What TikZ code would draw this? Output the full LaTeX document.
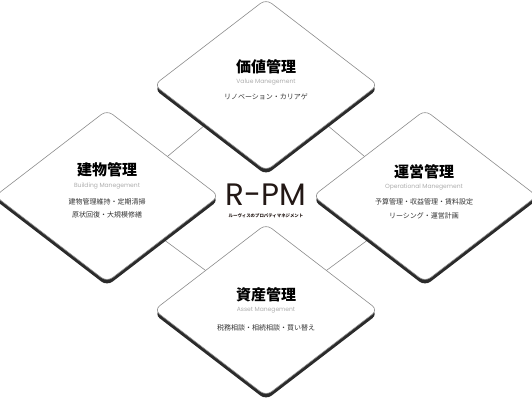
\documentclass[tikz,border=0pt]{standalone}
\usepackage{fontspec}
\setsansfont{Poppins}
\newfontfamily\jpfont{Noto Sans CJK JP}
\usetikzlibrary{shapes.geometric,shadows,calc,backgrounds}
\definecolor{rimgray}{HTML}{8C8C8C}
\definecolor{shadowdark}{HTML}{2B2B2B}
\definecolor{subgray}{HTML}{ADADAD}
\definecolor{bodygray}{HTML}{333333}
\definecolor{logobrown}{HTML}{231815}
\tikzset{
  pmbox/.style={diamond,draw=rimgray,line width=0.6pt,fill=white,rounded corners=7pt,
    minimum width=224pt,minimum height=172pt,inner sep=0pt,
    drop shadow={shadow xshift=0pt,shadow yshift=-4pt,opacity=1,fill=shadowdark}},
  pmtitle/.style={font=\jpfont\bfseries\fontsize{15}{18}\selectfont,text=black},
  pmsub/.style={font=\sffamily\fontsize{6}{7}\selectfont,text=subgray},
  pmbody/.style={font=\jpfont\fontsize{7}{13.5}\selectfont,text=bodygray,align=center},
  link/.style={draw=rimgray,line width=0.6pt}
}
\begin{document}
\begin{tikzpicture}[x=1pt,y=-1pt]
\useasboundingbox (0,0) rectangle (532,400);
%
\node[pmbox] (value) at (266,85) {};
\node[pmbox] (building) at (107,196) {};
\node[pmbox] (operation) at (425,196) {};
\node[pmbox] (asset) at (266,310) {};
%
\begin{scope}[on background layer]
\draw[link] ($(value.west)!0.46!(value.south)$) -- ($(building.north)!0.54!(building.east)$);
\draw[link] ($(value.east)!0.46!(value.south)$) -- ($(operation.north)!0.54!(operation.west)$);
\draw[link] ($(building.east)!0.5!(building.south)$) -- ($(asset.west)!0.46!(asset.north)$);
\draw[link] ($(operation.west)!0.5!(operation.south)$) -- ($(asset.east)!0.46!(asset.north)$);
\end{scope}
%
\node[font=\sffamily\fontsize{31}{34}\selectfont,text=logobrown,inner sep=0pt,anchor=base] (logo) at (266,205) {R-PM};
\node[font=\jpfont\bfseries\fontsize{4.4}{5}\selectfont,text=logobrown,inner sep=0pt,anchor=base] (logosub) at (266,217) {ルーヴィスのプロパティマネジメント};
%
\node[pmtitle] (valuetitle) at (266,67) {価値管理};
\node[pmsub] (valuesub) at (266,82) {Value Manegement};
\node[pmbody] (valuebody) at (266,97) {リノベーション・カリアゲ};
%
\node[pmtitle] (buildingtitle) at (107,170) {建物管理};
\node[pmsub] (buildingsub) at (107,186) {Building Manegement};
\node[pmbody] (buildingbody) at (107,208.5) {建物管理維持・定期清掃\\原状回復・大規模修繕};
%
\node[pmtitle] (operationtitle) at (424,172) {運営管理};
\node[pmsub] (operationsub) at (424,187) {Operational Manegement};
\node[pmbody] (operationbody) at (424,209) {予算管理・収益管理・賃料設定\\リーシング・運営計画};
%
\node[pmtitle] (assettitle) at (266,295) {資産管理};
\node[pmsub] (assetsub) at (266,310) {Asset Manegement};
\node[pmbody] (assetbody) at (266,328) {税務相談・相続相談・買い替え};
\end{tikzpicture}
\end{document}
